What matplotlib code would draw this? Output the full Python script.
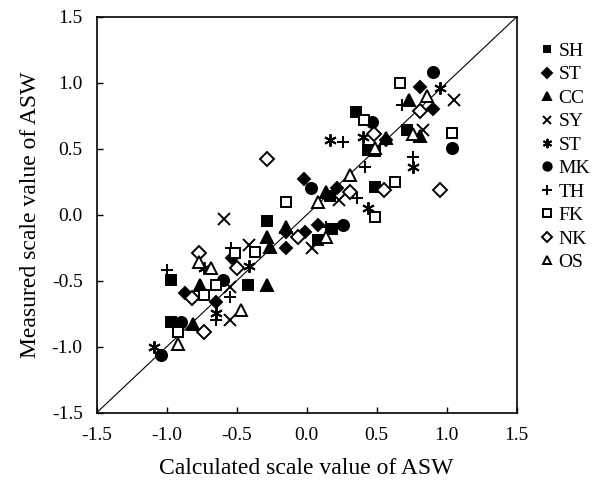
import numpy as np
import matplotlib.pyplot as plt

plt.rcParams['font.family'] = ['Liberation Serif', 'DejaVu Serif']

# data: (calculated, measured)
sh_x = [-0.97, -0.97, -0.42, -0.28, 0.08, 0.18, 0.17, 0.35, 0.44, 0.49, 0.72]
sh_y = [-0.49, -0.81, -0.53, -0.05, -0.19, -0.11, 0.14, 0.78, 0.49, 0.21, 0.64]

st_x = [-0.87, -0.65, -0.53, -0.15, -0.15, -0.01, 0.08, -0.02, 0.22, 0.81, 0.90, 0.57]
st_y = [-0.59, -0.66, -0.33, -0.13, -0.25, -0.13, -0.08, 0.27, 0.20, 0.97, 0.80, 0.57]

cc_x = [-0.81, -0.76, -0.28, -0.28, -0.15, -0.26, 0.14, 0.73, 0.57, 0.81]
cc_y = [-0.83, -0.53, -0.53, -0.17, -0.09, -0.24, 0.17, 0.87, 0.58, 0.60]

sy_x = [-0.55, -0.55, -0.41, -0.59, 0.04, 0.23, 1.05, 0.83]
sy_y = [-0.55, -0.80, -0.23, -0.03, -0.25, 0.11, 0.87, 0.64]

st2_x = [-1.09, -0.65, -0.41, -0.73, 0.17, 0.40, 0.44, 0.76, 0.95]
st2_y = [-1.00, -0.74, -0.39, -0.40, 0.57, 0.59, 0.05, 0.36, 0.96]

mk_x = [-1.04, -0.90, -0.60, 0.26, 0.03, 0.47, 0.90, 1.04]
mk_y = [-1.06, -0.81, -0.49, -0.08, 0.20, 0.70, 1.08, 0.51]

th_x = [-1.00, -0.54, -0.55, -0.65, 0.14, 0.36, 0.42, 0.26, 0.68, 0.76]
th_y = [-0.42, -0.25, -0.62, -0.80, -0.09, 0.13, 0.36, 0.55, 0.83, 0.44]

fk_x = [-0.92, -0.73, -0.65, -0.51, -0.37, -0.15, 0.49, 0.49, 0.63, 0.41, 0.67, 1.04]
fk_y = [-0.89, -0.61, -0.53, -0.29, -0.28, 0.10, 0.48, -0.02, 0.25, 0.72, 1.00, 0.62]

nk_x = [-0.73, -0.82, -0.77, -0.50, -0.28, -0.06, 0.31, 0.55, 0.48, 0.81, 0.95]
nk_y = [-0.89, -0.63, -0.29, -0.40, 0.42, -0.17, 0.17, 0.19, 0.61, 0.79, 0.19]

os_x = [-0.92, -0.47, -0.77, -0.68, 0.14, 0.08, 0.31, 0.49, 0.86, 0.76]
os_y = [-0.98, -0.72, -0.36, -0.40, -0.17, 0.10, 0.30, 0.51, 0.90, 0.61]

ticks = [-1.5, -1.0, -0.5, 0.0, 0.5, 1.0, 1.5]

fig = plt.figure(figsize=(5.96, 4.95), dpi=100)
ax = fig.add_axes([0.162, 0.166, 0.705, 0.80])

ax.plot([-1.5, 1.5], [-1.5, 1.5], color='black', lw=0.8, zorder=1)

series = [
    (sh_x, sh_y, 's', 'SH', 'black', 6.5),
    (st_x, st_y, 'D', 'ST', 'black', 6.5),
    (cc_x, cc_y, '^', 'CC', 'black', 8),
    (sy_x, sy_y, 'x', 'SY', 'black', 8),
    (st2_x, st2_y, (6, 2, 0), 'ST', 'black', 9),
    (mk_x, mk_y, 'o', 'MK', 'black', 8),
    (th_x, th_y, '+', 'TH', 'black', 9),
    (fk_x, fk_y, 's', 'FK', 'white', 7),
    (nk_x, nk_y, 'D', 'NK', 'white', 7),
    (os_x, os_y, '^', 'OS', 'white', 8.5),
]
for xs, ys, m, lab, fc, ms in series:
    ax.plot(xs, ys, linestyle='none', marker=m, markersize=ms,
            markerfacecolor=fc, markeredgecolor='black', markeredgewidth=1.4,
            label=lab, zorder=3)

ax.set_xlim(-1.5, 1.5)
ax.set_ylim(-1.5, 1.5)
ax.set_xticks(ticks)
ax.set_yticks(ticks)
ax.set_xticklabels(['%.1f' % t for t in ticks])
ax.set_yticklabels(['%.1f' % t for t in ticks])
ax.tick_params(direction='in', length=4, width=1, labelsize=14, pad=10)
for s in ax.spines.values():
    s.set_linewidth(1.2)

ax.set_xlabel('Calculated scale value of ASW', fontsize=17, labelpad=10)
ax.set_ylabel('Measured scale value of ASW', fontsize=17, labelpad=8)

leg = ax.legend(loc='upper left', bbox_to_anchor=(1.03, 0.955), frameon=False,
                fontsize=14, handletextpad=0.1, labelspacing=0.3,
                borderaxespad=0, handlelength=1.0, markerscale=0.75)

fig.savefig('out.png', dpi=100)
